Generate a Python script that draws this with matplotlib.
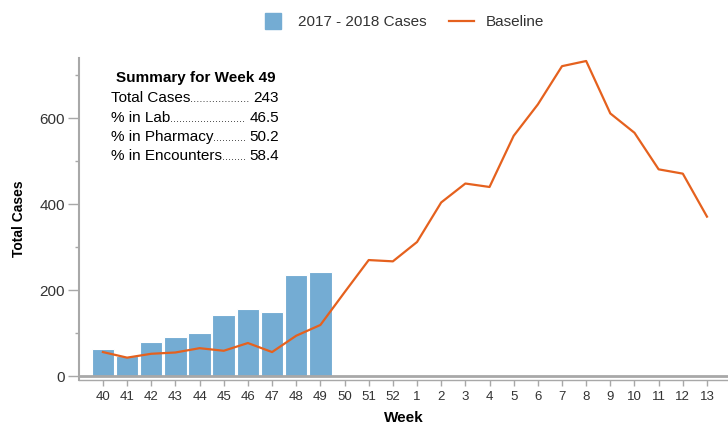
import matplotlib
matplotlib.use('Agg')
import matplotlib.pyplot as plt
import numpy as np
from matplotlib.ticker import MultipleLocator
from matplotlib.lines import Line2D

plt.rcParams['font.family'] = ['Liberation Sans', 'DejaVu Sans']

# data
weeks = ['40', '41', '42', '43', '44', '45', '46', '47', '48', '49', '50', '51', '52',
         '1', '2', '3', '4', '5', '6', '7', '8', '9', '10', '11', '12', '13']
cases = [63, 47, 80, 91, 101, 142, 157, 149, 235, 243]
baseline = [56, 43, 52, 55, 65, 59, 77, 56, 94, 119, 195, 270, 267,
            312, 404, 448, 440, 559, 632, 721, 733, 611, 566, 481, 471, 371]
summary_title = 'Summary for Week 49'
summary_names = ['Total Cases', '% in Lab', '% in Pharmacy', '% in Encounters']
summary_vals = ['243', '46.5', '50.2', '58.4']

bar_col = '#74acd3'
line_col = '#e5611e'
axis_col = '#a8a8a8'
txt_col = '#333333'

fig = plt.figure(figsize=(7.28, 4.24), dpi=100)
ax = fig.add_axes([79 / 728, 44 / 424, 649 / 728, 322 / 424])

x = np.arange(len(weeks))
ax.bar(x[:len(cases)], cases, width=0.93, color=bar_col, edgecolor='white',
       linewidth=0.8, zorder=2)
ax.plot(x, baseline, color=line_col, lw=1.6, zorder=3)
ax.axhline(0, color=axis_col, lw=2, zorder=4)

ax.set_xlim(-0.99, 25.87)
ax.set_ylim(-9, 740)
ax.set_xticks(x)
ax.set_xticklabels(weeks)
ax.yaxis.set_major_locator(MultipleLocator(200))
ax.yaxis.set_minor_locator(MultipleLocator(100))

for s in ['top', 'right']:
    ax.spines[s].set_visible(False)
for s in ['left', 'bottom']:
    ax.spines[s].set_color(axis_col)
ax.spines['left'].set_linewidth(1.5)
ax.spines['bottom'].set_linewidth(1.0)

ax.tick_params(axis='x', length=4, width=1, color=axis_col, labelsize=9.5,
               labelcolor=txt_col, pad=4)
ax.tick_params(axis='y', which='major', length=8, width=1, color=axis_col,
               labelsize=11, labelcolor=txt_col, pad=2)
ax.tick_params(axis='y', which='minor', length=3, width=1, color=axis_col)

ax.set_xlabel('Week', fontsize=11, fontweight='bold', labelpad=6)
ax.set_ylabel('Total Cases', fontsize=10, fontweight='bold', labelpad=10)

# summary block, dotted leaders between name and value
fig.text(196 / 728, 1 - 81.7 / 424, summary_title, ha='center', va='baseline',
         fontsize=11, fontweight='bold', color='black')
r = fig.canvas.get_renderer()
for i in range(len(summary_names)):
    yy = 1 - (102.3 + i * 19.2) / 424
    t1 = fig.text(111 / 728, yy, summary_names[i], ha='left', va='baseline',
                  fontsize=11, color='black')
    t2 = fig.text(279 / 728, yy, summary_vals[i], ha='right', va='baseline',
                  fontsize=11, color='black')
    x0 = t1.get_window_extent(r).x1
    x1 = t2.get_window_extent(r).x0 - 3
    n = max(1, int(round((x1 - x0) / 3.1)))
    # size the dots so they fill the gap exactly
    fs = (x1 - x0) / n / (0.278 * 100 / 72)
    fig.text(x0 / 728, yy, '.' * n, ha='left', va='baseline', fontsize=fs,
             color='#222222')

handles = [Line2D([], [], marker='s', ls='none', markersize=11.5, color=bar_col),
           Line2D([], [], color=line_col, lw=1.6)]
fig.legend(handles, ['2017 - 2018 Cases', 'Baseline'], loc='center',
           bbox_to_anchor=(0.553, 1 - 22 / 424), ncol=2, frameon=False,
           fontsize=11, handlelength=1.6, handletextpad=0.8, columnspacing=1.5,
           labelcolor=txt_col, borderpad=0)

plt.savefig('out.png', dpi=100)
